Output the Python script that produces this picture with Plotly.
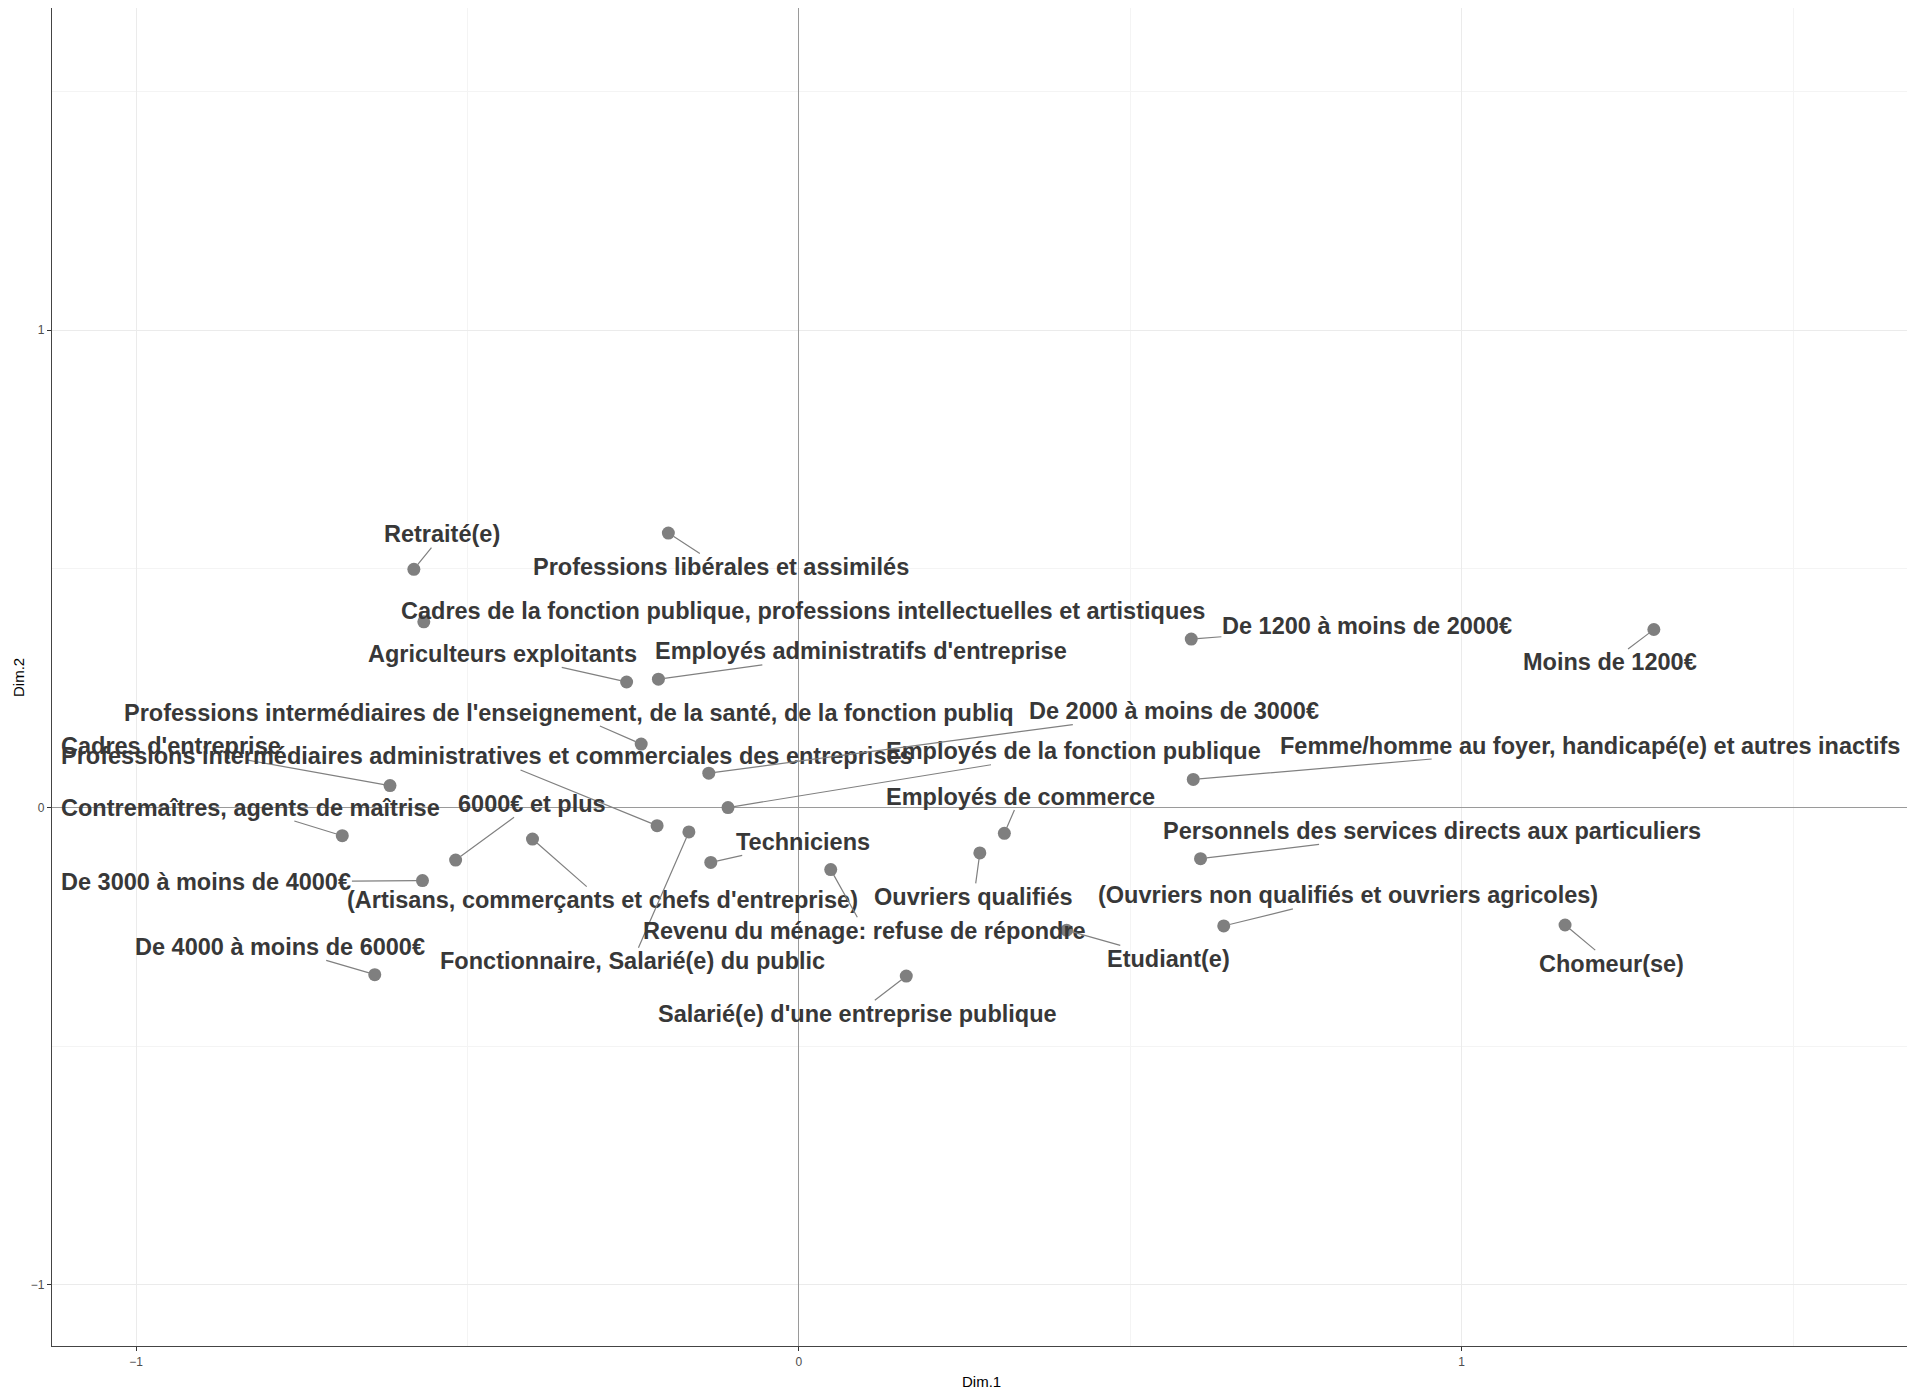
import plotly.graph_objects as go

# --- data ---
labels = [
    "Retraité(e)",
    "Professions libérales et assimilés",
    "Cadres de la fonction publique, professions intellectuelles et artistiques",
    "Agriculteurs exploitants",
    "Employés administratifs d'entreprise",
    "Professions intermédiaires de l'enseignement, de la santé, de la fonction publiq",
    "Cadres d'entreprise",
    "Professions intermédiaires administratives et commerciales des entreprises",
    "Contremaîtres, agents de maîtrise",
    "6000€ et plus",
    "De 3000 à moins de 4000€",
    "(Artisans, commerçants et chefs d'entreprise)",
    "De 4000 à moins de 6000€",
    "Fonctionnaire, Salarié(e) du public",
    "Techniciens",
    "Revenu du ménage: refuse de répondre",
    "Salarié(e) d'une entreprise publique",
    "Ouvriers qualifiés",
    "Employés de commerce",
    "Employés de la fonction publique",
    "De 2000 à moins de 3000€",
    "Etudiant(e)",
    "De 1200 à moins de 2000€",
    "Femme/homme au foyer, handicapé(e) et autres inactifs",
    "Personnels des services directs aux particuliers",
    "(Ouvriers non qualifiés et ouvriers agricoles)",
    "Moins de 1200€",
    "Chomeur(se)",
]
dim1 = [-0.581, -0.197, -0.566, -0.260, -0.212, -0.238, -0.617, -0.214, -0.689, -0.518,
        -0.568, -0.402, -0.640, -0.166, -0.133, 0.048, 0.162, 0.273, 0.310, -0.107,
        -0.136, 0.404, 0.592, 0.595, 0.606, 0.641, 1.290, 1.156]
dim2 = [0.499, 0.575, 0.389, 0.263, 0.269, 0.133, 0.046, -0.038, -0.059, -0.110,
        -0.153, -0.066, -0.350, -0.051, -0.115, -0.130, -0.353, -0.095, -0.054, 0.000,
        0.072, -0.257, 0.353, 0.059, -0.107, -0.248, 0.373, -0.246]

# --- label placement (layout, repelled positions) ---
label_x = [-0.538, -0.118, 0.0055, -0.448, 0.094, -0.347, -0.947, -0.470, -0.828, -0.402,
           -0.894, -0.297, -0.783, -0.251, 0.0055, 0.0995, 0.088, 0.264, 0.334, 0.415,
           0.566, 0.557, 0.857, 1.193, 0.955, 0.828, 1.224, 1.226]
label_y = [0.573, 0.504, 0.412, 0.322, 0.327, 0.199, 0.128, 0.107, 0.0, 0.008,
           -0.156, -0.194, -0.292, -0.322, -0.072, -0.258, -0.432, -0.187, 0.023, 0.118,
           0.202, -0.317, 0.381, 0.130, -0.049, -0.184, 0.304, -0.327]

POINT_COLOR = "#7f7f7f"
TEXT_COLOR = "#383838"
LABEL_FONT = "Liberation Sans, Arial, sans-serif"

fig = go.Figure()
fig.add_trace(go.Scatter(
    x=dim1, y=dim2, mode="markers",
    marker=dict(color=POINT_COLOR, size=13),
    text=labels, hoverinfo="text", showlegend=False,
))

annotations = []
for lab, px, py, lx, ly in zip(labels, dim1, dim2, label_x, label_y):
    annotations.append(dict(
        x=px, y=py, ax=lx, ay=ly, axref="x", ayref="y", xref="x", yref="y",
        text="<b>" + lab + "</b>", showarrow=True, arrowhead=0, arrowwidth=1.2,
        arrowcolor="#808080", standoff=6, startstandoff=0,
        font=dict(family=LABEL_FONT, size=23.5, color=TEXT_COLOR),
        borderpad=0,
    ))

# axis titles placed explicitly
annotations.append(dict(text="Dim.1", xref="paper", yref="paper", x=0.5, y=-0.0262,
                        xanchor="center", yanchor="middle", showarrow=False,
                        font=dict(family=LABEL_FONT, size=15, color="#000000")))
annotations.append(dict(text="Dim.2", xref="paper", yref="paper", x=-0.0183, y=0.5,
                        xanchor="center", yanchor="middle", showarrow=False, textangle=-90,
                        font=dict(family=LABEL_FONT, size=15, color="#000000")))

axis_common = dict(
    automargin=False,
    showgrid=True, gridcolor="#ebebeb", gridwidth=1.2,
    zeroline=True, zerolinecolor="#9a9a9a", zerolinewidth=1.2,
    showline=True, linecolor="#444444", linewidth=1.3, mirror=True,
    ticks="outside", ticklen=4, tickcolor="#333333", tickwidth=1,
    tickfont=dict(family=LABEL_FONT, size=12, color="#4d4d4d"),
    dtick=1, tick0=0,
    minor=dict(dtick=0.5, tick0=0, showgrid=True, gridcolor="#f4f4f4", gridwidth=1, ticks=""),
)

fig.update_layout(
    width=1915, height=1391,
    margin=dict(l=44, r=12, t=0, b=53, autoexpand=False),
    paper_bgcolor="white", plot_bgcolor="white",
    xaxis=dict(range=[-1.127, 1.678], **axis_common),
    yaxis=dict(range=[-1.128, 1.675], **axis_common),
    annotations=annotations,
)

fig.write_html("out.html")
